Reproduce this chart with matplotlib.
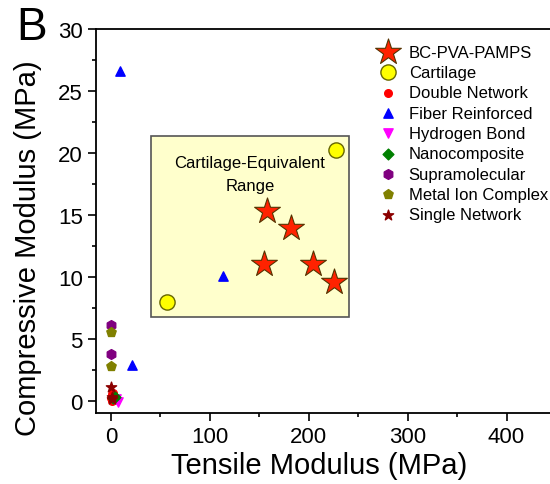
import matplotlib
matplotlib.use("Agg")
import matplotlib.pyplot as plt
from matplotlib.patches import Rectangle
from matplotlib.ticker import MultipleLocator

plt.rcParams['font.family'] = ['Liberation Sans', 'DejaVu Sans']

# data
bc_x = [157.6, 181.8, 154.8, 204.7, 225.9]
bc_y = [15.3, 13.9, 11.0, 11.0, 9.6]
cart_x = [227.6, 57.2]
cart_y = [20.2, 8.0]
dn_x = [0.5, 1.0, 1.5, 2.0, 0.8, 2.5]
dn_y = [0.2, 0.5, 0.1, 0.3, 0.0, 0.6]
fr_x = [9.4, 113.7, 21.2]
fr_y = [26.6, 10.1, 2.9]
hb_x = [7.7, 5.0]
hb_y = [-0.1, 0.1]
nc_x = [4.3, 2.5]
nc_y = [0.3, 0.2]
sm_x = [0.3, 0.3]
sm_y = [6.1, 3.8]
mi_x = [0.5, 0.3]
mi_y = [5.5, 2.8]
sn_x = [0.5, 1.0, 0.8]
sn_y = [1.1, 0.3, 0.1]

fig = plt.figure(figsize=(5.5, 4.85), dpi=100)
ax = fig.add_axes([96/550, 71/485, (556-96)/550, (414-30)/485])
ax.set_xlim(-15, 450)
ax.set_ylim(-1, 30)

ax.add_patch(Rectangle((40.7, 6.75), 241-40.7, 21.4-6.75, facecolor='#ffffcc',
                       edgecolor='#555555', linewidth=1.2, zorder=1))
ax.text(140.7, 19.2, 'Cartilage-Equivalent', ha='center', va='center', fontsize=12, zorder=2)
ax.text(140.7, 17.4, 'Range', ha='center', va='center', fontsize=12, zorder=2)

ax.scatter(dn_x, dn_y, marker='o', s=30, color='#ff0000', label='Double Network', zorder=3)
ax.scatter(fr_x, fr_y, marker='^', s=45, color='#0000ff', label='Fiber Reinforced', zorder=3)
ax.scatter(hb_x, hb_y, marker='v', s=45, color='#ff00ff', label='Hydrogen Bond', zorder=3)
ax.scatter(nc_x, nc_y, marker='D', s=30, color='#008000', label='Nanocomposite', zorder=3)
ax.scatter(sm_x, sm_y, marker='h', s=50, color='#800080', label='Supramolecular', zorder=3)
ax.scatter(mi_x, mi_y, marker='p', s=50, color='#808000', label='Metal Ion Complex', zorder=3)
ax.scatter(sn_x, sn_y, marker='*', s=60, color='#8b0000', label='Single Network', zorder=4)
ax.scatter(bc_x, bc_y, marker='*', s=380, facecolor='#ff2200', edgecolor='#553300',
           linewidth=0.8, label='BC-PVA-PAMPS', zorder=5)
ax.scatter(cart_x, cart_y, marker='o', s=120, facecolor='#ffff00', edgecolor='#666600',
           linewidth=1.0, label='Cartilage', zorder=5)

handles, labels = ax.get_legend_handles_labels()
order = [7, 8, 0, 1, 2, 3, 4, 5, 6]
leg = ax.legend([handles[i] for i in order], [labels[i] for i in order],
                loc='upper left', bbox_to_anchor=(0.58, 0.99), frameon=False,
                fontsize=12, handletextpad=0.45, labelspacing=0.32, borderpad=0.2,
                handlelength=1.6)

ax.xaxis.set_major_locator(MultipleLocator(100))
ax.xaxis.set_minor_locator(MultipleLocator(50))
ax.yaxis.set_major_locator(MultipleLocator(5))
ax.yaxis.set_minor_locator(MultipleLocator(2.5))
ax.tick_params(which='both', direction='out', top=False, right=False, labelsize=16, width=1.2)
ax.tick_params(which='major', length=6)
ax.tick_params(which='minor', length=3)
for sp in ax.spines.values():
    sp.set_linewidth(1.3)

ax.set_xlabel('Tensile Modulus (MPa)', fontsize=21)
ax.set_ylabel('Compressive Modulus (MPa)', fontsize=21)
ax.xaxis.set_label_coords(0.485, -0.1)
ax.yaxis.set_label_coords(-0.117, 0.432)
fig.text(0.03, 0.988, 'B', fontsize=33, ha='left', va='top')

fig.savefig('out.png', dpi=100)
